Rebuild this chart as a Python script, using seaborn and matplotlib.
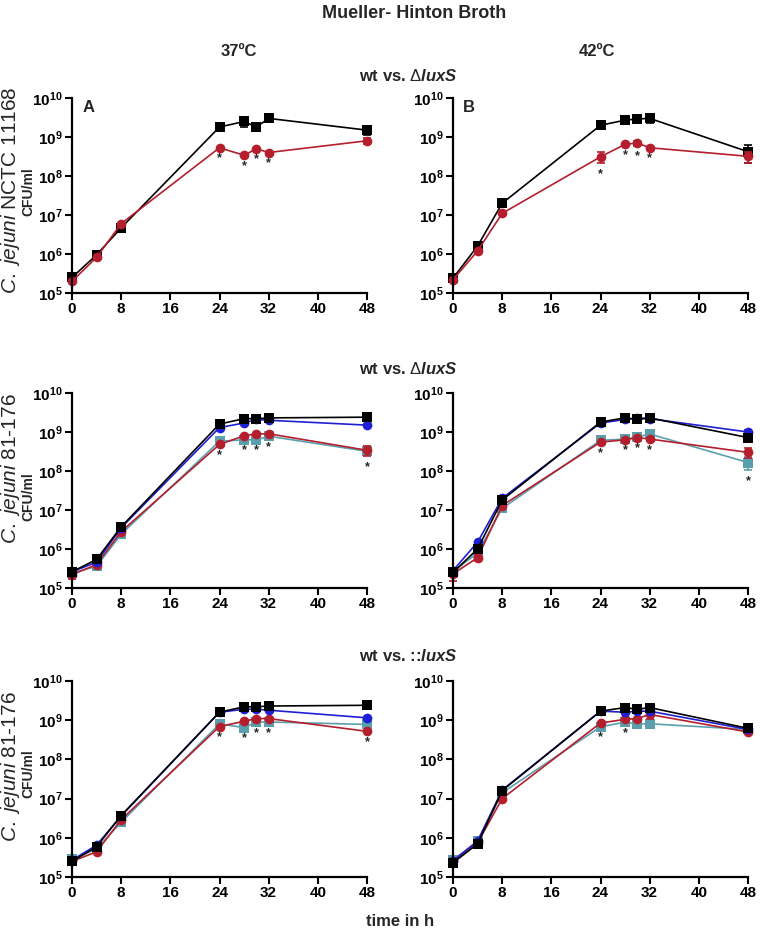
import seaborn as sns
import matplotlib.pyplot as plt
from matplotlib import font_manager
from matplotlib.ticker import FixedLocator, NullLocator

# sampling times (h)
time_h = [0, 4, 8, 24, 28, 30, 32, 48]

# NCTC 11168, 37 C (A)
a_wt = [2.5e5, 9.5e5, 4.7e6, 1.8e9, 2.5e9, 1.8e9, 3.0e9, 1.5e9]
a_wt_sd = [0, 0, 1.0e6, 0, 7e8, 0, 6e8, 4e8]
a_lux = [2.0e5, 8.2e5, 6.0e6, 5.3e8, 3.4e8, 5.0e8, 4.0e8, 8.0e8]
a_lux_sd = [0, 0, 0, 0, 0, 0, 0, 1.5e8]
a_stars = [24, 28, 30, 32]

# NCTC 11168, 42 C (B)
b_wt = [2.4e5, 1.6e6, 2.0e7, 2.0e9, 2.7e9, 2.9e9, 3.0e9, 4.2e8]
b_wt_sd = [0, 0, 0, 0, 0, 0, 7e8, 2e8]
b_lux = [2.2e5, 1.2e6, 1.1e7, 3.1e8, 6.5e8, 7.0e8, 5.3e8, 3.2e8]
b_lux_sd = [0, 0, 0, 1.0e8, 0, 1.0e8, 0, 1.0e8]
b_stars = [24, 28, 30, 32]

# 81-176 wt vs deltaluxS, 37 C
c_wt = [2.6e5, 5.4e5, 3.7e6, 1.6e9, 2.2e9, 2.2e9, 2.3e9, 2.4e9]
c_blue = [2.6e5, 4.6e5, 3.5e6, 1.3e9, 1.7e9, 2.1e9, 2.0e9, 1.5e9]
c_red = [2.2e5, 4.0e5, 2.8e6, 4.8e8, 8.0e8, 9.0e8, 9.0e8, 3.4e8]
c_red_sd = [5e4, 0, 0, 0, 0, 0, 0, 1.0e8]
c_teal = [2.4e5, 3.6e5, 2.4e6, 5.8e8, 6.3e8, 6.3e8, 7.8e8, 3.2e8]
c_stars = [24, 28, 30, 32, 48]

# 81-176 wt vs deltaluxS, 42 C
d_wt = [2.5e5, 1.0e6, 1.8e7, 1.8e9, 2.3e9, 2.1e9, 2.3e9, 7.2e8]
d_blue = [2.8e5, 1.5e6, 2.0e7, 1.7e9, 2.1e9, 2.3e9, 2.2e9, 1.0e9]
d_blue_sd = [0, 0, 0, 0, 0, 0, 0, 1.5e8]
d_red = [2.3e5, 6.0e5, 1.3e7, 5.5e8, 6.3e8, 7.2e8, 6.6e8, 3.0e8]
d_red_sd = [8e4, 1e5, 0, 0, 0, 0, 0, 8e7]
d_teal = [2.6e5, 8.0e5, 1.1e7, 6.1e8, 6.6e8, 7.4e8, 8.9e8, 1.65e8]
d_teal_sd = [0, 0, 0, 0, 0, 0, 0, 6e7]
d_stars = [24, 28, 30, 32, 48]

# 81-176 wt vs ::luxS, 37 C
e_wt = [2.5e5, 5.9e5, 3.7e6, 1.6e9, 2.2e9, 2.2e9, 2.3e9, 2.4e9]
e_blue = [2.7e5, 6.5e5, 3.6e6, 1.6e9, 1.9e9, 1.9e9, 1.8e9, 1.15e9]
e_red = [2.5e5, 4.4e5, 2.9e6, 6.9e8, 9.4e8, 1.1e9, 1.1e9, 5.2e8]
e_teal = [2.8e5, 5.2e5, 2.5e6, 8.0e8, 6.5e8, 9.0e8, 9.0e8, 7.8e8]
e_stars = [24, 28, 30, 32, 48]

# 81-176 wt vs ::luxS, 42 C
f_wt = [2.3e5, 7.0e5, 1.6e7, 1.7e9, 2.1e9, 1.9e9, 2.1e9, 6.2e8]
f_blue = [2.6e5, 8.3e5, 1.65e7, 1.7e9, 1.6e9, 1.7e9, 1.7e9, 5.8e8]
f_red = [2.5e5, 7.4e5, 1.0e7, 8.5e8, 1.05e9, 1.1e9, 1.4e9, 5.0e8]
f_red_sd = [0, 0, 0, 0, 0, 0, 3e8, 6e7]
f_teal = [2.7e5, 8.1e5, 1.4e7, 6.8e8, 8.9e8, 8.1e8, 8.1e8, 5.8e8]
f_stars = [24, 28]

zeros = [0] * len(time_h)

BLACK = '#000000'
RED = '#b41e2d'
BLUE = '#1f1fd6'
TEAL = '#5b9fad'

sns.set_style('ticks')
names = {f.name for f in font_manager.fontManager.ttflist}
base = 'Liberation Sans Narrow' if 'Liberation Sans Narrow' in names else 'Liberation Sans'
plt.rcParams['font.family'] = [base, 'DejaVu Sans']
plt.rcParams['mathtext.fontset'] = 'custom'
plt.rcParams['mathtext.rm'] = base
plt.rcParams['mathtext.it'] = base + ':italic'
plt.rcParams['mathtext.bf'] = base + ':bold'
plt.rcParams['mathtext.bfit'] = base + ':italic:bold'

W, H = 760, 936
fig = plt.figure(figsize=(W / 100, H / 100), dpi=100)


def box(x0, y_top, x1, y_bot):
    return [x0 / W, 1 - y_bot / H, (x1 - x0) / W, (y_bot - y_top) / H]


def draw_panel(ax, series, stars, letter=None):
    for vals, sd, color, marker in series:
        ax.errorbar(time_h, vals, yerr=sd, fmt='none', ecolor=color,
                    elinewidth=1.2, capsize=3, capthick=1.2, clip_on=False)
        sns.lineplot(x=time_h, y=vals, color=color, marker=marker,
                     markersize=6.5 if marker == 's' else 7,
                     markeredgewidth=0, linewidth=1.2, ax=ax, clip_on=False)
    for t in stars:
        i = time_h.index(t)
        lo = min(v[i] - s[i] for v, s, _, _ in series)
        ax.text(t, lo / 10 ** 0.12, '*', ha='center', va='top',
                fontsize=9, fontweight='bold')
    ax.set_yscale('log')
    ax.set_ylim(1e5, 1e10)
    ax.set_xlim(0, 48)
    ax.xaxis.set_major_locator(FixedLocator([0, 8, 16, 24, 32, 40, 48]))
    ax.yaxis.set_major_locator(FixedLocator([1e5, 1e6, 1e7, 1e8, 1e9, 1e10]))
    ax.yaxis.set_minor_locator(NullLocator())
    ax.set_yticklabels([r'$\mathbf{10^{%d}}$' % k for k in range(5, 11)])
    ax.set_xticklabels(['0', '8', '16', '24', '32', '40', '48'])
    for lab in ax.get_xticklabels() + ax.get_yticklabels():
        lab.set_fontsize(11)
        lab.set_fontweight('bold')
    ax.tick_params(direction='out', length=5, width=1.5, pad=1.5, colors='black')
    sns.despine(ax=ax)
    for sp in ('left', 'bottom'):
        ax.spines[sp].set_linewidth(1.6)
        ax.spines[sp].set_color('black')
    ax.set_xlabel('')
    ax.set_ylabel('')
    if letter:
        ax.text(0.035, 0.99, letter, transform=ax.transAxes, ha='left',
                va='top', fontsize=12, fontweight='bold')


rows = [(98, 293), (393, 588), (681, 877)]
cols = [(72, 367), (453, 748)]

panels = [
    ([(a_wt, a_wt_sd, BLACK, 's'), (a_lux, a_lux_sd, RED, 'o')], a_stars, 'A'),
    ([(b_wt, b_wt_sd, BLACK, 's'), (b_lux, b_lux_sd, RED, 'o')], b_stars, 'B'),
    ([(c_teal, zeros, TEAL, 's'), (c_red, c_red_sd, RED, 'o'),
      (c_blue, zeros, BLUE, 'o'), (c_wt, zeros, BLACK, 's')], c_stars, None),
    ([(d_teal, d_teal_sd, TEAL, 's'), (d_red, d_red_sd, RED, 'o'),
      (d_blue, d_blue_sd, BLUE, 'o'), (d_wt, zeros, BLACK, 's')], d_stars, None),
    ([(e_teal, zeros, TEAL, 's'), (e_red, zeros, RED, 'o'),
      (e_blue, zeros, BLUE, 'o'), (e_wt, zeros, BLACK, 's')], e_stars, None),
    ([(f_teal, zeros, TEAL, 's'), (f_red, f_red_sd, RED, 'o'),
      (f_blue, zeros, BLUE, 'o'), (f_wt, zeros, BLACK, 's')], f_stars, None),
]

for k, (series, stars, letter) in enumerate(panels):
    r, c = rows[k // 2], cols[k % 2]
    ax = fig.add_axes(box(c[0], r[0], c[1], r[1]))
    draw_panel(ax, series, stars, letter)


def ftext(x, y, s, **kw):
    fig.text(x / W, 1 - y / H, s, ha='center', va='center', **kw)


ftext(414, 13, 'Mueller- Hinton Broth', fontsize=13, fontweight='bold')
ftext(239, 52, '37ºC', fontsize=12, fontweight='bold')
ftext(597, 52, '42ºC', fontsize=12, fontweight='bold')
ftext(408, 76, r'wt vs. $\Delta\mathbfit{luxS}$', fontsize=12, fontweight='bold')
ftext(408, 369, r'wt vs. $\Delta\mathbfit{luxS}$', fontsize=12, fontweight='bold')
ftext(408, 656, r'wt vs. ::$\mathbfit{luxS}$', fontsize=12, fontweight='bold')
ftext(400, 922, 'time in h', fontsize=12, fontweight='bold')

row_labels = [r'$\mathit{C.\ jejuni}$ NCTC 11168', r'$\mathit{C.\ jejuni}$ 81-176',
              r'$\mathit{C.\ jejuni}$ 81-176']
row_centers = [190, 469, 767]
cfu_centers = [192, 497, 774]
for lab, yc, yc2 in zip(row_labels, row_centers, cfu_centers):
    ftext(11, yc, lab, fontsize=15, rotation=90)
    ftext(28, yc2, 'CFU/ml', fontsize=10, fontweight='bold', rotation=90)

fig.savefig('out.png', dpi=100)
